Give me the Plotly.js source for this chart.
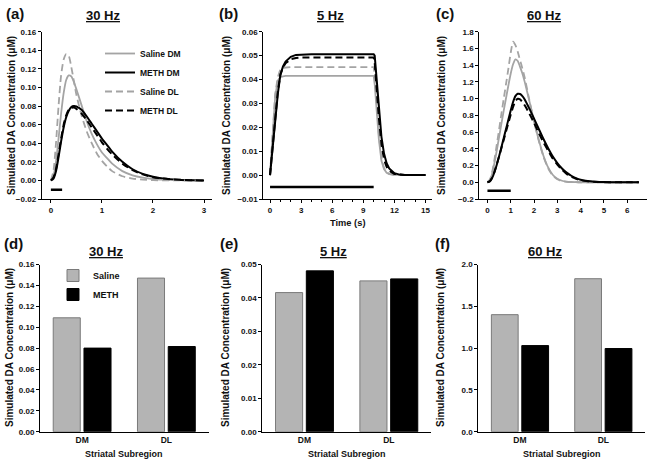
<!DOCTYPE html>
<html>
<head>
<meta charset="utf-8">
<script src="https://cdn.plot.ly/plotly-3.0.1.min.js"></script>
<style>html,body{margin:0;padding:0;background:#fff;}#chart{width:651px;height:463px;}</style>
</head>
<body>
<div id="chart"></div>
<script>
// ---------- Panel (a) 30 Hz time course ----------
const tA = [0,0.05,0.1,0.15,0.2,0.25,0.3,0.35,0.4,0.45,0.5,0.6,0.7,0.8,0.9,1.0,1.1,1.2,1.4,1.6,1.8,2.0,2.2,2.5,2.8,3.0];
const salineDM_A = [0,0.005,0.02,0.045,0.072,0.094,0.108,0.113,0.112,0.106,0.098,0.081,0.064,0.05,0.039,0.03,0.024,0.018,0.01,0.0055,0.003,0.0015,0.0008,0.0003,0.0001,0];
const methDM_A   = [0,0.002,0.01,0.025,0.042,0.057,0.068,0.075,0.079,0.080,0.0795,0.076,0.069,0.061,0.053,0.045,0.038,0.031,0.02,0.012,0.007,0.004,0.0022,0.0008,0.0002,0];
const salineDL_A = [0,0.01,0.04,0.08,0.113,0.13,0.136,0.134,0.122,0.107,0.092,0.07,0.053,0.04,0.029,0.021,0.015,0.01,0.0045,0.002,0.0008,0.0003,0.0001,0,0,0];
const methDL_A   = [0,0.003,0.012,0.028,0.045,0.06,0.07,0.076,0.078,0.0785,0.077,0.072,0.065,0.057,0.049,0.041,0.034,0.028,0.018,0.011,0.0065,0.0035,0.002,0.0007,0.0002,0];
const stimA_x = [0, 0.22];
const stimA_y = [-0.01, -0.01];

// ---------- Panel (b) 5 Hz time course ----------
const tB = [0,0.25,0.5,0.75,1,1.25,1.5,2,2.5,3,4,5,6,7,8,9,10,10.1,10.25,10.5,10.75,11,11.25,11.5,12,12.5,13,14,15];
const methDM_B   = [0,0.011,0.024,0.034,0.042,0.0455,0.0475,0.0495,0.0503,0.0505,0.0506,0.0506,0.0506,0.0506,0.0506,0.0506,0.0506,0.050,0.042,0.029,0.016,0.009,0.005,0.0028,0.0008,0.0002,0,0,0];
const methDL_B   = [0,0.012,0.025,0.035,0.042,0.045,0.0468,0.0485,0.049,0.0492,0.0492,0.0492,0.0492,0.0492,0.0492,0.0492,0.0492,0.047,0.038,0.024,0.013,0.0065,0.0035,0.0018,0.0005,0.0001,0,0,0];
const salineDL_B = [0,0.018,0.034,0.041,0.0443,0.0449,0.0451,0.0452,0.0452,0.0452,0.0452,0.0452,0.0452,0.0452,0.0452,0.0452,0.0452,0.042,0.032,0.017,0.007,0.003,0.0012,0.0005,0.0001,0,0,0,0];
const salineDM_B = [0,0.018,0.033,0.0395,0.041,0.0413,0.0415,0.0415,0.0415,0.0415,0.0415,0.0415,0.0415,0.0415,0.0415,0.0415,0.0415,0.038,0.029,0.015,0.006,0.0025,0.001,0.0004,0.0001,0,0,0,0];
const stimB_x = [0, 10];
const stimB_y = [-0.005, -0.005];

// ---------- Panel (c) 60 Hz time course ----------
const tC = [0,0.1,0.2,0.3,0.4,0.5,0.6,0.7,0.8,0.9,1.0,1.1,1.2,1.3,1.4,1.5,1.6,1.8,2.0,2.2,2.4,2.6,2.8,3.0,3.2,3.4,3.6,3.8,4.0,4.3,4.6,5.0,5.5,6.0,6.5];
const salineDL_C = [0,0.03,0.12,0.27,0.45,0.63,0.82,1.0,1.18,1.36,1.55,1.68,1.64,1.56,1.46,1.36,1.25,0.98,0.73,0.5,0.31,0.17,0.08,0.035,0.014,0.006,0.002,0.001,0,0,0,0,0,0,0];
const salineDM_C = [0,0.025,0.1,0.23,0.38,0.54,0.7,0.86,1.01,1.16,1.3,1.41,1.47,1.45,1.38,1.3,1.2,0.97,0.73,0.51,0.32,0.18,0.09,0.042,0.018,0.007,0.003,0.001,0,0,0,0,0,0,0];
const methDM_C   = [0,0.01,0.05,0.12,0.21,0.31,0.42,0.53,0.64,0.75,0.86,0.96,1.03,1.058,1.055,1.03,0.99,0.88,0.76,0.64,0.52,0.41,0.31,0.23,0.165,0.115,0.078,0.05,0.03,0.014,0.006,0.002,0.0005,0,0];
const methDL_C   = [0,0.012,0.055,0.125,0.215,0.31,0.41,0.51,0.61,0.71,0.81,0.9,0.97,0.998,0.99,0.96,0.92,0.82,0.71,0.59,0.48,0.38,0.285,0.21,0.15,0.1,0.066,0.042,0.026,0.012,0.005,0.0015,0.0003,0,0];
const stimC_x = [0, 1];
const stimC_y = [-0.1, -0.1];

// ---------- Panels (d)-(f) peak concentrations ----------
const regions = ['DM', 'DL'];
const saline30 = [0.109, 0.147];
const meth30   = [0.080, 0.0815];
const saline5  = [0.0416, 0.0451];
const meth5    = [0.0481, 0.0457];
const saline60 = [1.40, 1.83];
const meth60   = [1.03, 0.995];

const FONT = 'Liberation Sans, Arial, Helvetica, sans-serif';
const GRAY = '#a4a4a4';
const BLACK = '#000000';
const DASH = '7px,4px';

function line(x, y, color, dash, width, xa, ya, name, showleg, shape) {
  return {type:'scatter', mode:'lines', x:x, y:y, xaxis:xa, yaxis:ya, name:name,
    showlegend: !!showleg, legend:'legend', hoverinfo:'skip',
    line:{color:color, width:width, dash:dash, shape:shape||'spline', smoothing:0.6}};
}
function stim(x, y, xa, ya) {
  return {type:'scatter', mode:'lines', x:x, y:y, xaxis:xa, yaxis:ya, showlegend:false,
    hoverinfo:'skip', line:{color:BLACK, width:2.5}};
}
function bars(y, color, outline, xa, ya, name, showleg) {
  return {type:'bar', x:regions, y:y, xaxis:xa, yaxis:ya, name:name, showlegend:!!showleg,
    legend:'legend2', hoverinfo:'skip', marker:{color:color, line:{color:outline, width:1}}};
}

const traces = [
  line(tA, salineDM_A, GRAY, 'solid', 1.8, 'x', 'y', 'Saline DM', true),
  line(tA, methDM_A, BLACK, 'solid', 2, 'x', 'y', 'METH DM', true),
  line(tA, salineDL_A, GRAY, DASH, 1.8, 'x', 'y', 'Saline DL', true),
  line(tA, methDL_A, BLACK, DASH, 2, 'x', 'y', 'METH DL', true),
  stim(stimA_x, stimA_y, 'x', 'y'),

  line(tB, salineDM_B, GRAY, 'solid', 1.8, 'x2', 'y2', 'Saline DM', false, 'linear'),
  line(tB, salineDL_B, GRAY, DASH, 1.8, 'x2', 'y2', 'Saline DL', false, 'linear'),
  line(tB, methDL_B, BLACK, DASH, 2, 'x2', 'y2', 'METH DL', false, 'linear'),
  line(tB, methDM_B, BLACK, 'solid', 2, 'x2', 'y2', 'METH DM', false, 'linear'),
  stim(stimB_x, stimB_y, 'x2', 'y2'),

  line(tC, salineDM_C, GRAY, 'solid', 1.8, 'x3', 'y3', 'Saline DM', false),
  line(tC, salineDL_C, GRAY, DASH, 1.8, 'x3', 'y3', 'Saline DL', false),
  line(tC, methDM_C, BLACK, 'solid', 2, 'x3', 'y3', 'METH DM', false),
  line(tC, methDL_C, BLACK, DASH, 2, 'x3', 'y3', 'METH DL', false),
  stim(stimC_x, stimC_y, 'x3', 'y3'),

  bars(saline30, '#b4b4b4', '#7a7a7a', 'x4', 'y4', 'Saline', true),
  bars(meth30, BLACK, BLACK, 'x4', 'y4', 'METH', true),
  bars(saline5, '#b4b4b4', '#7a7a7a', 'x5', 'y5', 'Saline', false),
  bars(meth5, BLACK, BLACK, 'x5', 'y5', 'METH', false),
  bars(saline60, '#b4b4b4', '#7a7a7a', 'x6', 'y6', 'Saline', false),
  bars(meth60, BLACK, BLACK, 'x6', 'y6', 'METH', false)
];

const W = 651, H = 463;
const px = v => v / W;
const py = v => 1 - v / H;

const tickfont = {family:FONT, size:8, color:'#111', weight:'bold'};
function xax(domain, range, extra) {
  return Object.assign({domain:domain, range:range, showline:true, linecolor:'#000', linewidth:1,
    showgrid:false, zeroline:false, ticks:'outside', ticklen:3, tickwidth:1, tickcolor:'#000',
    tickfont:tickfont, fixedrange:true}, extra||{});
}
function yax(domain, range, dtick, fmt, anchor) {
  return {domain:domain, range:range, anchor:anchor, showline:true, linecolor:'#000', linewidth:1,
    showgrid:false, zeroline:false, ticks:'outside', ticklen:3, tickwidth:1, tickcolor:'#000',
    tick0:0, dtick:dtick, tickformat:fmt, tickfont:tickfont, fixedrange:true};
}

const topY = [py(199), py(31.7)];
const botY = [py(431.7), py(264.5)];

const ann = [];
function txt(x, y, text, size, extra) {
  ann.push(Object.assign({xref:'paper', yref:'paper', x:x, y:y, text:text, showarrow:false,
    xanchor:'center', yanchor:'middle', font:{family:FONT, size:size, color:'#111', weight:'bold'}}, extra||{}));
}
// panel letters and frequency titles
txt(px(15), py(13), '(a)', 15);
txt(px(103.3), py(16), '<u>30 Hz</u>', 13);
txt(px(228), py(13), '(b)', 15);
txt(px(330), py(16), '<u>5 Hz</u>', 13);
txt(px(445), py(13), '(c)', 15);
txt(px(543.7), py(16), '<u>60 Hz</u>', 13);
txt(px(13.3), py(243), '(d)', 15);
txt(px(105.8), py(251.5), '<u>30 Hz</u>', 13);
txt(px(229), py(243), '(e)', 15);
txt(px(333.7), py(251.5), '<u>5 Hz</u>', 13);
txt(px(442.5), py(243), '(f)', 15);
txt(px(545), py(251.5), '<u>60 Hz</u>', 13);
// y titles
const ytitle = 'Simulated DA Concentration (\u03bcM)';
[[11.7, 115.3], [226.7, 115.3], [441.7, 115.3], [9, 348], [225, 348], [440, 348]].forEach(p => {
  txt(px(p[0]), py(p[1]), ytitle, 10, {textangle:-90});
});
// x titles
txt(px(347.5), py(222.7), 'Time (s)', 9.3);
txt(px(124.2), py(454.3), 'Striatal Subregion', 9);
txt(px(346.7), py(454.3), 'Striatal Subregion', 9);
txt(px(561.7), py(454.3), 'Striatal Subregion', 9);

const layout = {
  width:W, height:H, margin:{l:0, r:0, t:0, b:0},
  paper_bgcolor:'#fff', plot_bgcolor:'rgba(0,0,0,0)',
  font:{family:FONT, color:'#111'},
  showlegend:true,
  barmode:'group', bargap:0.27, bargroupgap:0.12,
  legend:{x:px(100), xanchor:'left', y:py(82), yanchor:'middle', bgcolor:'rgba(0,0,0,0)',
    font:{family:FONT, size:8.5, color:'#111', weight:'bold'}, tracegroupgap:0, traceorder:'normal'},
  legend2:{x:px(53), xanchor:'left', y:py(285), yanchor:'middle', bgcolor:'rgba(0,0,0,0)',
    font:{family:FONT, size:9, color:'#111', weight:'bold'}, tracegroupgap:0, traceorder:'normal'},
  xaxis: xax([px(41.7), px(211.7)], [-0.18, 3.15], {anchor:'y', tickvals:[0,1,2,3]}),
  yaxis: yax(topY, [-0.02, 0.16], 0.02, '.2f', 'x'),
  xaxis2: xax([px(263.3), px(431.7)], [-0.65, 15.6], {anchor:'y2', tick0:0, dtick:3,
    minor:{dtick:1, ticks:'outside', ticklen:2, tickcolor:'#000', showgrid:false}}),
  yaxis2: yax(topY, [-0.01, 0.06], 0.01, '.2f', 'x2'),
  xaxis3: xax([px(479.3), px(647)], [-0.35, 6.85], {anchor:'y3', tick0:0, dtick:1}),
  yaxis3: yax(topY, [-0.2, 1.8], 0.2, '.1f', 'x3'),
  xaxis4: xax([px(40), px(208.5)], [-0.5, 1.5], {anchor:'y4', type:'category', ticks:'', tickfont:{family:FONT, size:8.5, color:'#111', weight:'bold'}}),
  yaxis4: yax(botY, [0, 0.16], 0.02, '.2f', 'x4'),
  xaxis5: xax([px(262.3), px(431)], [-0.5, 1.5], {anchor:'y5', type:'category', ticks:'', tickfont:{family:FONT, size:8.5, color:'#111', weight:'bold'}}),
  yaxis5: yax(botY, [0, 0.05], 0.01, '.2f', 'x5'),
  xaxis6: xax([px(478.3), px(645)], [-0.5, 1.5], {anchor:'y6', type:'category', ticks:'', tickfont:{family:FONT, size:8.5, color:'#111', weight:'bold'}}),
  yaxis6: yax(botY, [0, 2.0], 0.5, '.1f', 'x6'),
  annotations: ann
};

Plotly.newPlot('chart', traces, layout, {staticPlot:true, displayModeBar:false});
</script>
</body>
</html>
